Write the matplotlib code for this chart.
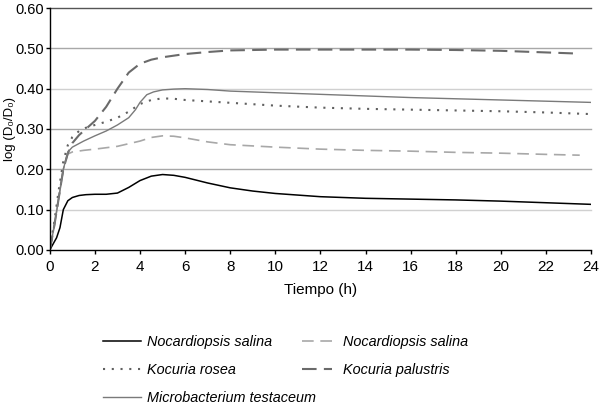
import matplotlib
matplotlib.use("Agg")
import matplotlib.pyplot as plt

plt.rcParams['font.family'] = ['Liberation Sans', 'DejaVu Sans']

t_ns = [0, 0.15, 0.3, 0.45, 0.6, 0.8, 1.0, 1.3, 1.6, 2.0, 2.5, 3.0, 3.5, 4.0, 4.5, 5.0, 5.5, 6.0, 7.0, 8.0, 9.0, 10.0, 12.0, 14.0, 16.0, 18.0, 20.0, 22.0, 24.0]
v_ns = [0, 0.015, 0.03, 0.055, 0.10, 0.122, 0.130, 0.135, 0.137, 0.138, 0.138, 0.141, 0.155, 0.172, 0.183, 0.187, 0.185, 0.180, 0.166, 0.154, 0.146, 0.140, 0.132, 0.128, 0.126, 0.124, 0.121, 0.117, 0.113]

t_ns2 = [0, 0.2, 0.4, 0.6, 0.8, 1.0, 1.5, 2.0, 3.0, 4.0, 4.5, 5.0, 5.5, 6.0, 7.0, 8.0, 10.0, 12.0, 14.0, 16.0, 18.0, 20.0, 22.0, 23.5]
v_ns2 = [0, 0.06, 0.13, 0.20, 0.238, 0.243, 0.247, 0.250, 0.257, 0.270, 0.279, 0.283, 0.282, 0.278, 0.268, 0.261, 0.255, 0.250, 0.247, 0.245, 0.242, 0.240, 0.237, 0.235]

t_kr = [0, 0.2, 0.4, 0.6, 0.8, 1.0, 1.3, 1.6, 2.0, 2.5, 3.0, 3.5, 4.0, 4.5, 5.0, 5.5, 6.0, 8.0, 10.0, 12.0, 14.0, 16.0, 18.0, 20.0, 22.0, 24.0]
v_kr = [0, 0.07, 0.15, 0.22, 0.26, 0.28, 0.295, 0.303, 0.31, 0.318, 0.328, 0.343, 0.362, 0.372, 0.376, 0.375, 0.372, 0.365, 0.358, 0.353, 0.350, 0.348, 0.346, 0.344, 0.341, 0.337]

t_kp = [0, 0.2, 0.4, 0.6, 0.8, 1.0, 1.3, 1.6, 2.0, 2.5, 3.0, 3.5, 4.0, 4.5, 5.0, 6.0, 7.0, 8.0, 9.0, 10.0, 12.0, 14.0, 16.0, 18.0, 20.0, 22.0, 23.5]
v_kp = [0, 0.06, 0.13, 0.20, 0.24, 0.265, 0.285, 0.30, 0.32, 0.355, 0.40, 0.44, 0.462, 0.472, 0.478, 0.486, 0.491, 0.495, 0.496, 0.497, 0.497, 0.497, 0.497, 0.496, 0.494, 0.490, 0.487]

t_mt = [0, 0.2, 0.4, 0.6, 0.8, 1.0, 1.5, 2.0, 2.5, 3.0, 3.5, 3.8, 4.0, 4.3, 4.6, 5.0, 5.5, 6.0, 7.0, 8.0, 10.0, 12.0, 14.0, 16.0, 18.0, 20.0, 22.0, 24.0]
v_mt = [0, 0.06, 0.13, 0.20, 0.243, 0.255, 0.27, 0.283, 0.295, 0.31, 0.328, 0.348, 0.366, 0.385, 0.392, 0.397, 0.399, 0.400, 0.398, 0.394, 0.390, 0.386, 0.382, 0.378, 0.375, 0.372, 0.369, 0.366]

labels = ['Nocardiopsis salina', 'Nocardiopsis salina', 'Kocuria rosea', 'Kocuria palustris', 'Microbacterium testaceum']
yticks = [0.0, 0.1, 0.2, 0.3, 0.4, 0.5, 0.6]
xticks = list(range(0, 25, 2))

fig = plt.figure(figsize=(6, 4.05), dpi=100)
ax = fig.add_axes([0.083, 0.383, 0.902, 0.597])

grid_colors = {0.1: '#d0d0d0', 0.2: '#a8a8a8', 0.3: '#a8a8a8', 0.4: '#d0d0d0', 0.5: '#a8a8a8', 0.6: '#555555'}
for yv, c in grid_colors.items():
    ax.axhline(yv, color=c, lw=1.0, zorder=0, clip_on=False)

l_ns, = ax.plot(t_ns, v_ns, color='black', lw=1.1)
l_ns2, = ax.plot(t_ns2, v_ns2, color='#a8a8a8', lw=1.2, dashes=(7, 4))
l_kr, = ax.plot(t_kr, v_kr, color='#606060', lw=1.5, dashes=(1, 3.2))
l_kp, = ax.plot(t_kp, v_kp, color='#6a6a6a', lw=1.5, dashes=(7, 3.5))
l_mt, = ax.plot(t_mt, v_mt, color='#7a7a7a', lw=1.0)

ax.set_xlim(0, 24)
ax.set_ylim(0, 0.6)
ax.set_xticks(xticks)
ax.set_yticks(yticks)
ax.set_yticklabels([f'{v:.2f}' for v in yticks])
for s in ['top', 'right']:
    ax.spines[s].set_visible(False)
ax.spines['left'].set_linewidth(1.0)
ax.spines['bottom'].set_linewidth(1.0)
ax.tick_params(direction='out', length=3, width=1.0, labelsize=11)
ax.tick_params(axis='y', pad=1, labelsize=10.5)
ax.tick_params(axis='x', pad=4)
ax.set_xlabel('Tiempo (h)', fontsize=11, labelpad=7)
ax.set_ylabel('log (D\u2080/D\u2080)', fontsize=9.5)
ax.yaxis.set_label_coords(-0.062, 0.5)

leg_kw = dict(loc='upper left', frameon=False, prop={'style': 'italic', 'size': 10.4},
              handlelength=2.6, labelspacing=0.95, handletextpad=0.4, borderaxespad=0,
              borderpad=0)
leg1 = fig.legend([l_ns, l_kr, l_mt], [labels[0], labels[2], labels[4]],
                  bbox_to_anchor=(0.172, 0.172), **leg_kw)
leg2 = fig.legend([l_ns2, l_kp], [labels[1], labels[3]],
                  bbox_to_anchor=(0.503, 0.172), **dict(leg_kw, handlelength=2.1, handletextpad=0.75))

fig.savefig('out.png', dpi=100)
